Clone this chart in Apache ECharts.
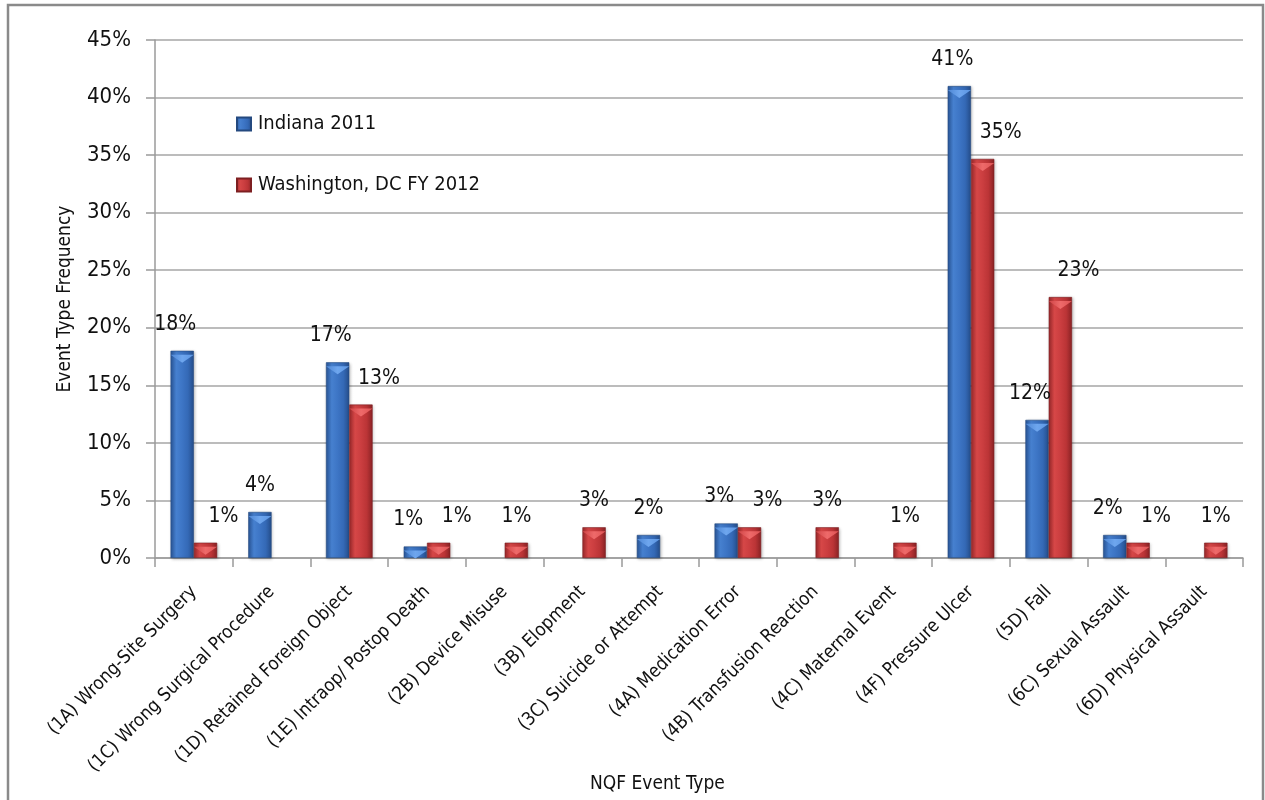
<!DOCTYPE html>
<html>
<head>
<meta charset="utf-8">
<style>
  html, body { margin: 0; padding: 0; background: #fff; }
  #chart { width: 1265px; height: 800px; }
</style>
<script src="https://cdn.jsdelivr.net/npm/echarts@6/dist/echarts.min.js"></script>
</head>
<body>
<div id="chart"></div>
<script>
// NQF serious reportable event types
const categories = [
  '(1A) Wrong-Site Surgery',
  '(1C) Wrong Surgical Procedure',
  '(1D) Retained Foreign Object',
  '(1E) Intraop/ Postop Death',
  '(2B) Device Misuse',
  '(3B) Elopment',
  '(3C) Suicide or Attempt',
  '(4A) Medication Error',
  '(4B) Transfusion Reaction',
  '(4C) Maternal Event',
  '(4F) Pressure Ulcer',
  '(5D) Fall',
  '(6C) Sexual Assault',
  '(6D) Physical Assault'
];

// Share of events by type (%), null where no events were reported
const indiana2011 = [18, 4, 17, 1, null, null, 2, 3, null, null, 41, 12, 2, null];
const washingtonDC2012 = [1.33, null, 13.33, 1.33, 1.33, 2.67, null, 2.67, 2.67, 1.33, 34.67, 22.67, 1.33, 1.33];

const seriesNames = ['Indiana 2011', 'Washington, DC FY 2012'];
const yTicks = { min: 0, max: 45, step: 5 };

const FONT = '"DejaVu Sans Condensed", "Liberation Sans Narrow", "Liberation Sans", sans-serif';

function barGradient(stops) {
  return {
    type: 'linear', x: 0, y: 0, x2: 1, y2: 0,
    colorStops: stops.map((c, i) => ({ offset: i / (stops.length - 1), color: c }))
  };
}
const blueFill = barGradient(['#2a579a', '#4680cf', '#3d75c5', '#3469b6', '#254d8a']);
const redFill = barGradient(['#9c292b', '#d64747', '#cb3e40', '#bb3436', '#8a2325']);
const blueCap = barGradient(['#4d86d4', '#6ea6ee', '#5b95e2']);
const redCap = barGradient(['#cf4446', '#ee6a6a', '#de5354']);

// Labels nudge apart where both series have a bar in the same category
function seriesData(values, other, shift) {
  return values.map((v, i) => {
    if (v == null) return null;
    const paired = other[i] != null;
    return { value: v, label: { offset: [paired ? shift : 0, 0] } };
  });
}

const labelStyle = {
  show: true,
  position: 'top',
  distance: 16,
  fontFamily: FONT,
  fontSize: 21,
  color: '#111',
  formatter: p => Math.round(p.value) + '%'
};

// Light bevel triangle on top of each bar
function capSeries(name, values, fill) {
  return {
    name: name,
    type: 'pictorialBar',
    barGap: '0%',
    barCategoryGap: '40%',
    symbol: 'path://M0,0 L10,0 L5,4 Z',
    symbolPosition: 'end',
    symbolSize: ['100%', 8],
    symbolOffset: [0, '50%'],
    symbolClip: false,
    data: values,
    itemStyle: { color: fill },
    label: { show: false },
    silent: true,
    z: 3
  };
}

const chart = echarts.init(document.getElementById('chart'), null, { renderer: 'canvas' });

chart.setOption({
  animation: false,
  backgroundColor: '#fff',
  textStyle: { fontFamily: FONT },
  graphic: [{
    type: 'rect',
    shape: { x: 8, y: 5, width: 1255, height: 820 },
    style: { fill: 'none', stroke: '#8a8a8a', lineWidth: 2.5 },
    silent: true
  }],
  title: {
    text: 'NQF Event Type',
    left: 585,
    top: 770,
    textStyle: { fontFamily: FONT, fontSize: 19, fontWeight: 'normal', color: '#111' }
  },
  legend: {
    orient: 'vertical',
    left: 231,
    top: 109,
    itemWidth: 14,
    itemHeight: 13,
    itemGap: 41,
    icon: 'rect',
    textStyle: { fontFamily: FONT, fontSize: 20, color: '#111', padding: [0, 0, 0, 2] },
    data: seriesNames
  },
  grid: { left: 155, right: 22, top: 40, bottom: 242, containLabel: false },
  xAxis: {
    type: 'category',
    data: categories,
    axisLine: { lineStyle: { color: '#9a9a9a', width: 1.5 } },
    axisTick: { show: true, length: 9, lineStyle: { color: '#9a9a9a', width: 1.5 } },
    axisLabel: {
      interval: 0,
      rotate: 45,
      margin: 31,
      fontFamily: FONT,
      fontSize: 18.5,
      color: '#111'
    }
  },
  yAxis: {
    type: 'value',
    min: yTicks.min,
    max: yTicks.max,
    interval: yTicks.step,
    name: 'Event Type Frequency',
    nameLocation: 'middle',
    nameGap: 80,
    nameTextStyle: { fontFamily: FONT, fontSize: 19, color: '#111' },
    axisLine: { show: true, lineStyle: { color: '#9a9a9a', width: 1.5 } },
    axisTick: { show: true, length: 9, lineStyle: { color: '#9a9a9a', width: 1.5 } },
    splitLine: { lineStyle: { color: '#a6a6a6', width: 1.5 } },
    axisLabel: {
      margin: 24,
      fontFamily: FONT,
      fontSize: 22,
      color: '#111',
      formatter: v => v + '%'
    }
  },
  series: [
    {
      name: seriesNames[0],
      type: 'bar',
      barGap: '0%',
      barCategoryGap: '40%',
      data: seriesData(indiana2011, washingtonDC2012, -7),
      itemStyle: { color: blueFill, borderColor: '#24497f', borderWidth: 0.6,
                   shadowColor: 'rgba(0,0,0,0.25)', shadowBlur: 3, shadowOffsetX: 1, shadowOffsetY: 1 },
      label: labelStyle
    },
    {
      name: seriesNames[1],
      type: 'bar',
      barGap: '0%',
      barCategoryGap: '40%',
      data: seriesData(washingtonDC2012, indiana2011, 18),
      itemStyle: { color: redFill, borderColor: '#7d1f21', borderWidth: 0.6,
                   shadowColor: 'rgba(0,0,0,0.25)', shadowBlur: 3, shadowOffsetX: 1, shadowOffsetY: 1 },
      label: labelStyle
    },
    capSeries(seriesNames[0], indiana2011, blueCap),
    capSeries(seriesNames[1], washingtonDC2012, redCap)
  ]
});
</script>
</body>
</html>
